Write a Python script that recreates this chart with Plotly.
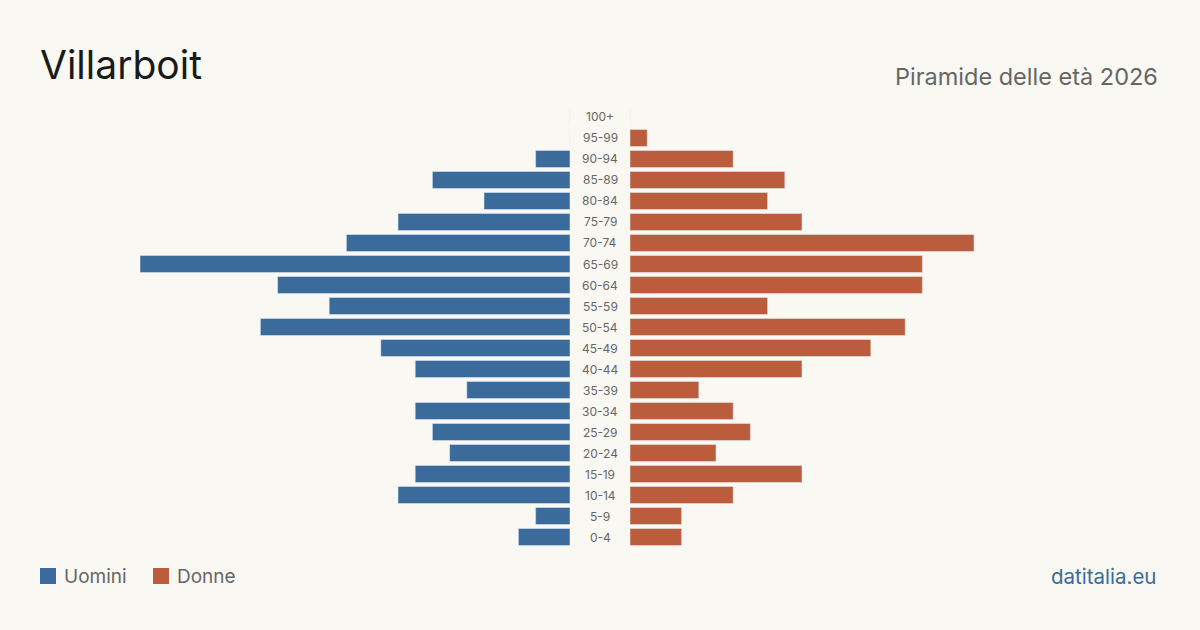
import plotly.graph_objects as go

age_groups = ["0-4", "5-9", "10-14", "15-19", "20-24", "25-29", "30-34", "35-39",
              "40-44", "45-49", "50-54", "55-59", "60-64", "65-69", "70-74", "75-79",
              "80-84", "85-89", "90-94", "95-99", "100+"]
men = [3, 2, 10, 9, 7, 8, 9, 6, 9, 11, 18, 14, 17, 25, 13, 10, 5, 8, 2, 0, 0]
women = [3, 3, 6, 10, 5, 7, 6, 4, 10, 14, 16, 8, 17, 17, 20, 10, 8, 9, 6, 1, 0]

W, H = 1200, 630
BG = "#f9f8f3"
BLUE = "#3b6b9b"
ORANGE = "#bb5d3c"
FONT = "Inter"

px_per_unit = 17.2
R = (570 - 40) / px_per_unit

fig = go.Figure()
fig.add_trace(go.Bar(y=age_groups, x=men, orientation="h", marker_color=BLUE,
                     name="Uomini", xaxis="x", yaxis="y", showlegend=False,
                     hoverinfo="x+y"))
fig.add_trace(go.Bar(y=age_groups, x=women, orientation="h", marker_color=ORANGE,
                     name="Donne", xaxis="x2", yaxis="y", showlegend=False,
                     hoverinfo="x+y"))

annotations = []
for g in age_groups:
    annotations.append(dict(x=0.5, xref="paper", y=g, yref="y", text=g,
                            showarrow=False, xanchor="center", yanchor="middle",
                            font=dict(family=FONT, size=12, color="#666666")))

annotations += [
    dict(x=38 / W, y=1 - 65 / H, xref="paper", yref="paper", text="Villarboit",
         showarrow=False, xanchor="left", yanchor="middle",
         font=dict(family=FONT, size=39, color="#1a1a1a")),
    dict(x=1160 / W, y=1 - 76 / H, xref="paper", yref="paper",
         text="Piramide delle età 2026", showarrow=False, xanchor="right",
         yanchor="middle", font=dict(family=FONT, size=23.5, color="#666666")),
    dict(x=62 / W, y=1 - 576 / H, xref="paper", yref="paper", text="Uomini",
         showarrow=False, xanchor="left", yanchor="middle",
         font=dict(family=FONT, size=19, color="#666666")),
    dict(x=175 / W, y=1 - 576 / H, xref="paper", yref="paper", text="Donne",
         showarrow=False, xanchor="left", yanchor="middle",
         font=dict(family=FONT, size=19, color="#666666")),
    dict(x=1158 / W, y=1 - 576 / H, xref="paper", yref="paper", text="datitalia.eu",
         showarrow=False, xanchor="right", yanchor="middle",
         font=dict(family=FONT, size=20.5, color=BLUE)),
]

shapes = [
    dict(type="rect", xref="paper", yref="paper", x0=40 / W, x1=56 / W,
         y0=1 - 584 / H, y1=1 - 568 / H, fillcolor=BLUE, line_width=0),
    dict(type="rect", xref="paper", yref="paper", x0=153 / W, x1=169 / W,
         y0=1 - 584 / H, y1=1 - 568 / H, fillcolor=ORANGE, line_width=0),
]

fig.update_layout(
    width=W, height=H,
    margin=dict(l=0, r=0, t=0, b=0),
    paper_bgcolor=BG, plot_bgcolor=BG,
    bargap=0.19,
    xaxis=dict(domain=[40 / W, 570 / W], range=[R, 0], visible=False, fixedrange=True),
    xaxis2=dict(domain=[630 / W, 1160 / W], range=[0, R], visible=False,
                anchor="y", fixedrange=True),
    yaxis=dict(domain=[(H - 547.5) / H, (H - 106.5) / H], range=[-0.5, 20.5],
               type="category", categoryorder="array", categoryarray=age_groups,
               visible=False, fixedrange=True),
    annotations=annotations,
    shapes=shapes,
    showlegend=False,
)

fig.write_html("out.html")
